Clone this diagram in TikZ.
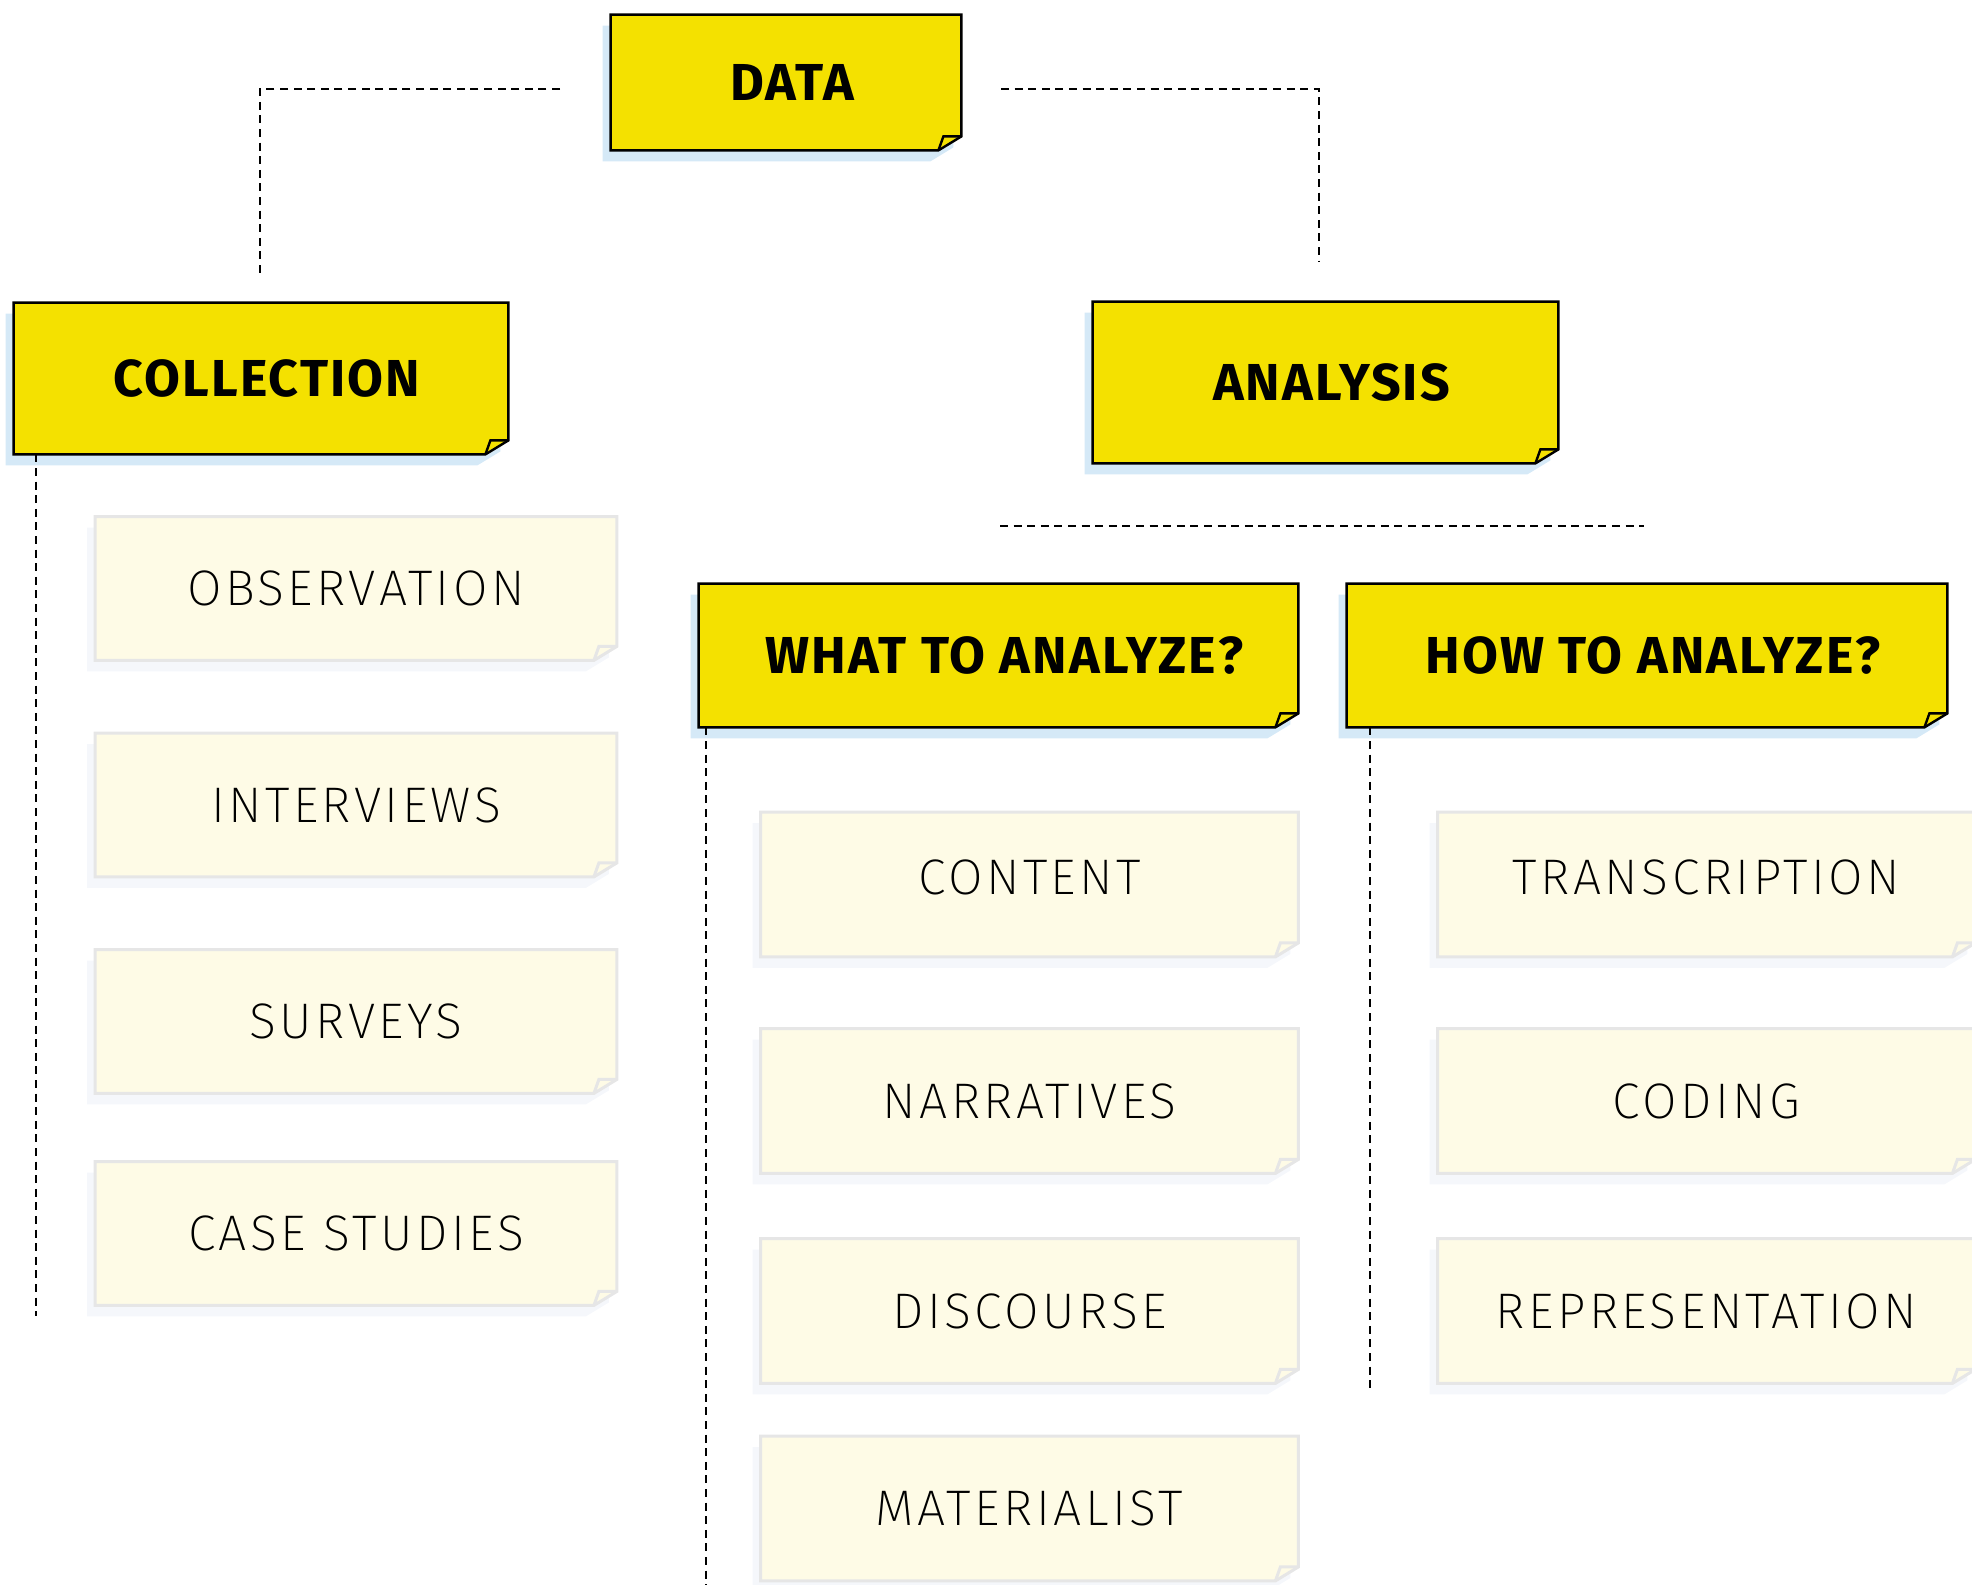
\documentclass[tikz,border=0pt]{standalone}
\usepackage{fontspec}
\usepackage{tikz}
\usetikzlibrary{backgrounds,calc}
\newfontfamily\headfont{Fira Sans Bold}[LetterSpace=4]
\newfontfamily\itemfont{Fira Sans ExtraLight}[LetterSpace=7]
\definecolor{hl}{HTML}{F4E100}
\definecolor{sky}{HTML}{D5E9F7}
\definecolor{cream}{HTML}{FEFBE6}
\definecolor{rim}{HTML}{E6E6E6}
\definecolor{mist}{HTML}{F5F7FB}
\newcommand{\lift}[1]{\raisebox{3.5pt}[\height][\depth]{#1}}
% paper note behind a node: shadow, body with cut corner, small fold
\newcommand{\note}[4]{%
  \begin{scope}[on background layer]
    \fill[#4] ($(#1.north west)+(-8,11)$) -- ($(#1.north east)+(-8,11)$) -- ($(#1.south east)+(-8,-3)$)
      -- ($(#1.south east)+(-31,11)$) -- ($(#1.south west)+(-8,11)$) -- cycle;
    \filldraw[fill=#2,draw=#3] (#1.north west) -- (#1.north east) -- ($(#1.south east)+(0,-14)$)
      -- ($(#1.south east)+(-23,0)$) -- (#1.south west) -- cycle;
    \draw[#3] ($(#1.south east)+(-23,0)$) -- ($(#1.south east)+(-18,-14)$) -- ($(#1.south east)+(0,-14)$);
  \end{scope}}
\tikzset{
  head/.style={inner sep=0pt,align=center,font=\headfont\fontsize{26}{30}\selectfont,
    execute at begin node=\hspace*{6pt}},
  item/.style={inner sep=0pt,align=center,font=\itemfont\fontsize{25}{30}\selectfont},
  lbox/.style={item,minimum width=260.5pt,minimum height=71.5pt},
  mbox/.style={item,minimum width=268.5pt,minimum height=72pt},
  link/.style={line width=1.1pt,dash pattern=on 4pt off 2.8pt},
  hline/.style={line width=1.2pt},
  pline/.style={line width=1.5pt},
}
\begin{document}
\begin{tikzpicture}[x=0.5pt,y=-0.5pt]
\useasboundingbox (0,0) rectangle (1972,1585);
% headings
\node[head,minimum width=175pt,minimum height=67.5pt] (data) at (786,82.5) {DATA};
\node[head,minimum width=247pt,minimum height=75.5pt] (coll) at (261,378.5) {COLLECTION};
\node[head,minimum width=232.5pt,minimum height=80.5pt] (anal) at (1325.5,382.5) {ANALYSIS};
\node[head,minimum width=299.5pt,minimum height=71.5pt] (what) at (998.5,655.5) {WHAT TO ANALYZE?};
\node[head,minimum width=300pt,minimum height=71.5pt] (how) at (1647,655.5) {HOW TO ANALYZE?};
\foreach \n in {data,coll,anal,what,how} {\note{\n}{hl}{black,hline}{sky}}
% collection items
\node[lbox] (obs) at (356,588.5) {OBSERVATION};
\node[lbox] (intv) at (356,805) {INTERVIEWS};
\node[lbox] (surv) at (356,1021.5) {SURVEYS};
\node[lbox] (case) at (356,1233.5) {CASE STUDIES};
% what items
\node[mbox] (cont) at (1029.5,884.5) {\lift{CONTENT}};
\node[mbox] (narr) at (1029.5,1101) {NARRATIVES};
\node[mbox] (disc) at (1029.5,1311) {DISCOURSE};
\node[mbox] (matl) at (1029.5,1508.5) {MATERIALIST};
% how items
\node[mbox] (trans) at (1706.5,884.5) {\lift{TRANSCRIPTION}};
\node[mbox] (codg) at (1706.5,1101) {CODING};
\node[mbox] (repr) at (1706.5,1311) {REPRESENTATION};
\foreach \n in {obs,intv,surv,case,cont,narr,disc,matl,trans,codg,repr} {\note{\n}{cream}{rim,pline}{mist}}
% dashed links
\coordinate (dl) at (560,89);
\coordinate (cl) at (260,274);
\coordinate (dr) at (1001,89);
\coordinate (ar) at (1319,262);
\coordinate (h1) at (1000,526);
\coordinate (h2) at (1644,526);
\coordinate (ce) at (36,1316);
\coordinate (we) at (706,1585);
\coordinate (he) at (1370,1392);
\draw[link] (dl) -| (cl);
\draw[link] (dr) -| (ar);
\draw[link] (h1) -- (h2);
\draw[link] (coll.south west -| ce) -- (ce);
\draw[link] (what.south west -| we) -- (we);
\draw[link] (how.south west -| he) -- (he);
\end{tikzpicture}
\end{document}
